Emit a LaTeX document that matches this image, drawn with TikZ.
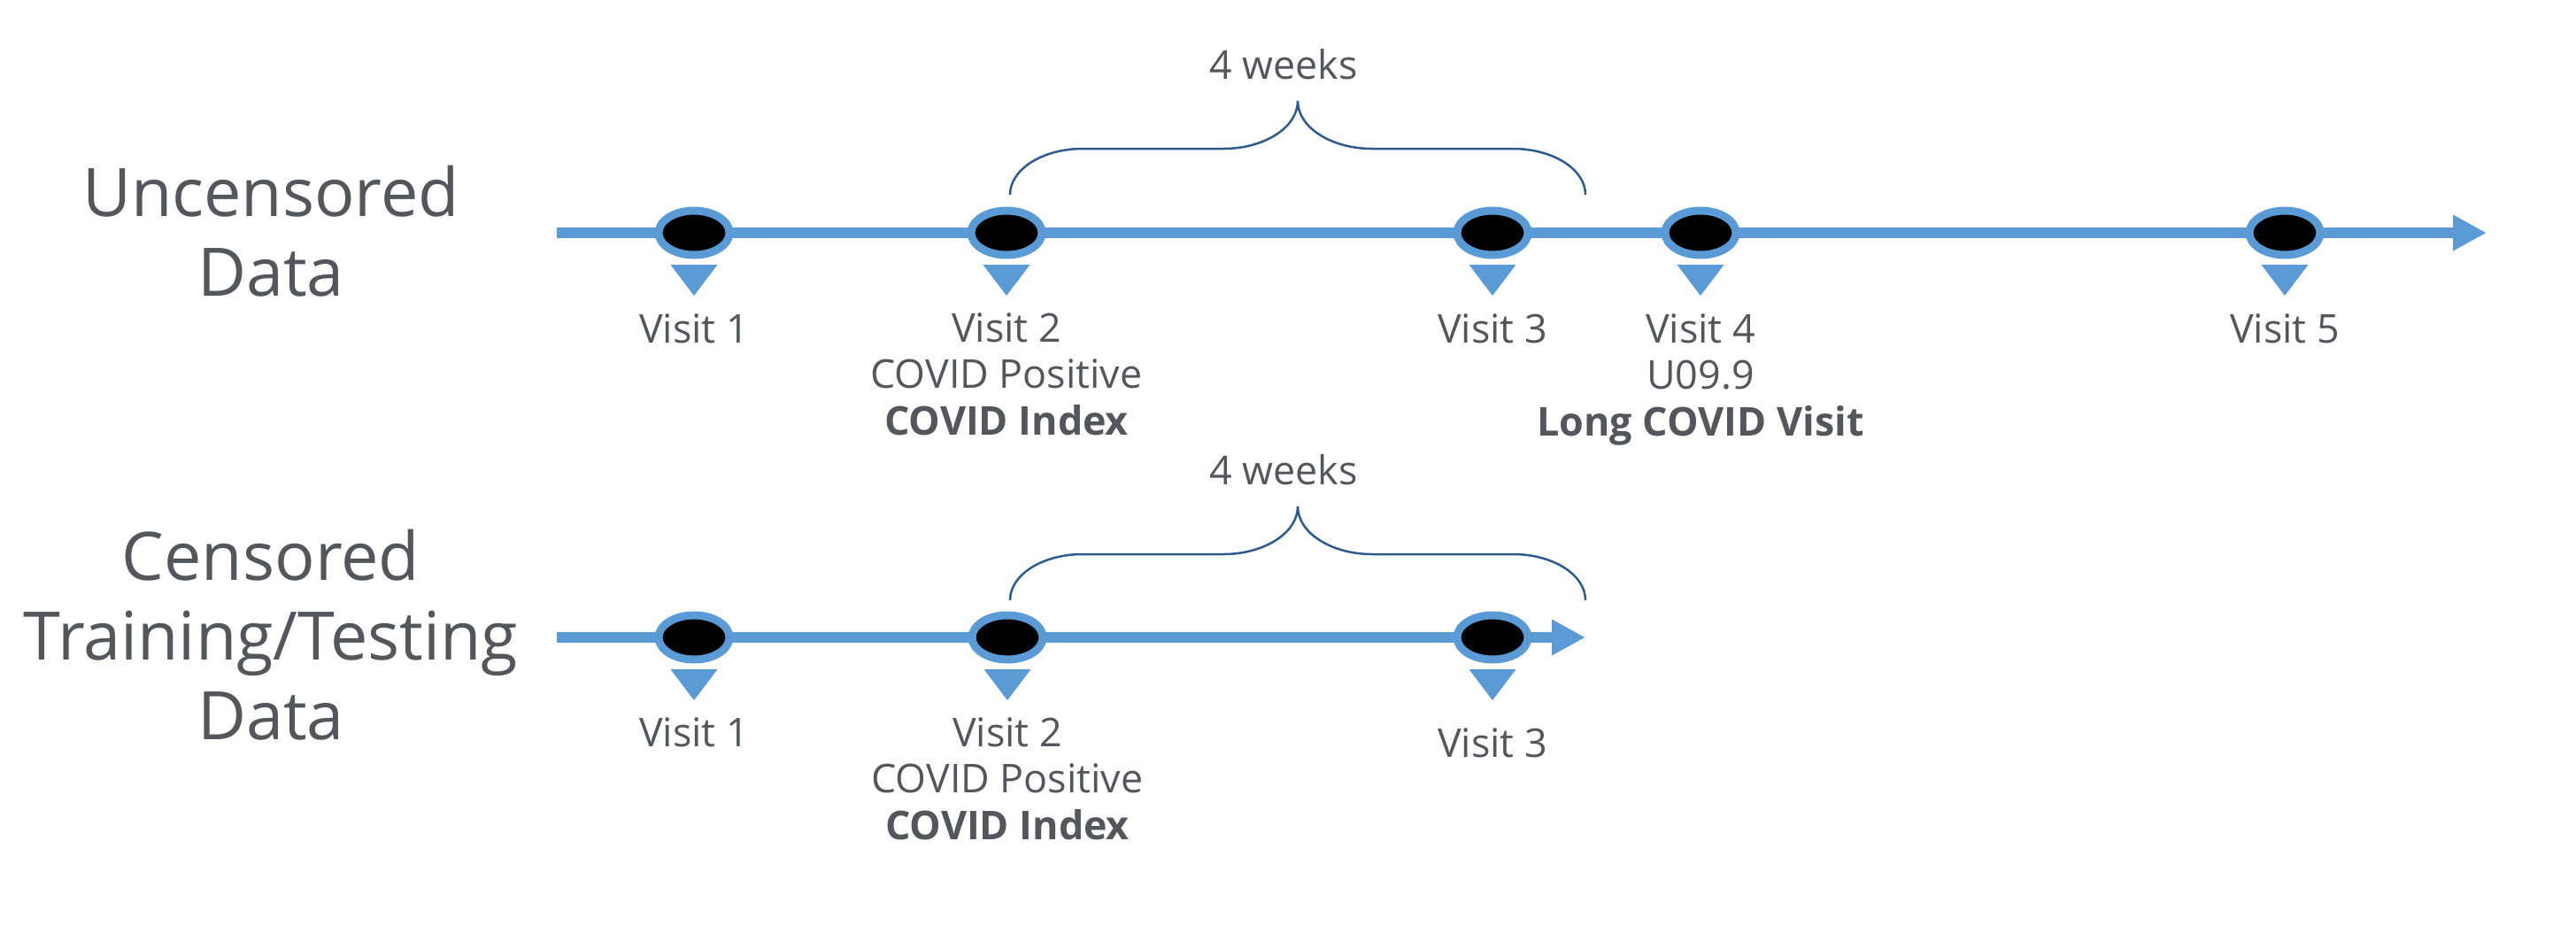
\documentclass[tikz,border=0pt]{standalone}
\definecolor{lineblue}{HTML}{5B9BD5}
\definecolor{braceblue}{HTML}{2F5A8E}
\definecolor{txtgray}{HTML}{53565A}
\usepackage{fontspec}
\setmainfont{Open Sans}
\usetikzlibrary{arrows.meta}
\usetikzlibrary{shapes.geometric}
\usetikzlibrary{calc}

\begin{document}
\begin{tikzpicture}[
	timeline/.style={lineblue, line width=1.25mm, -{Triangle[length=3.8mm,width=3.8mm]}},
	visit/.style={ellipse, draw=lineblue, line width=0.9mm, fill=black, minimum width=8mm, minimum height=5mm, inner sep=0pt},
	lbl/.style={txtgray, font=\fontsize{12.75}{14.8}\selectfont, align=center, anchor=base, inner sep=0pt},
	biglbl/.style={txtgray, font=\fontsize{21.5}{25.6}\selectfont, align=center, anchor=base, inner sep=0pt},
	brace/.style={braceblue, line width=0.25mm}]
	\useasboundingbox (0,0) rectangle (29.1,-10.45);
	%row titles (base = last line)
	\node[biglbl] (unc) at (3.06,-3.34) {Uncensored\\Data};
	\node[biglbl] (cen) at (3.06,-8.35) {Censored\\Training/Testing\\Data};
	%uncensored timeline
	\coordinate (ts) at (6.29,-2.63);
	\coordinate (te) at (28.09,-2.63);
	\draw[timeline] (ts) -- (te);
	\foreach \x [count=\i] in {7.84,11.37,16.86,19.21,25.81}
	{
		\node[visit] (t\i) at (\x,-2.63) {};
		\fill[lineblue] ($(t\i)+(-0.265,-0.36)$) -- ++(0.53,0) -- ($(t\i)+(0,-0.71)$) -- cycle;
	}
	\node[lbl] (tl1) at ($(t1)+(0,-1.24)$) {Visit 1};
	\node[lbl] (tl2) at ($(t2)+(0,-2.28)$) {Visit 2\\COVID Positive\\\textbf{COVID Index}};
	\node[lbl] (tl3) at ($(t3)+(0,-1.24)$) {Visit 3};
	\node[lbl] (tl4) at ($(t4)+(0,-2.29)$) {Visit 4\\U09.9\\\textbf{Long COVID Visit}};
	\node[lbl] (tl5) at ($(t5)+(0,-1.24)$) {Visit 5};
	%censored timeline
	\coordinate (bs) at (6.29,-7.20);
	\coordinate (be) at (17.91,-7.20);
	\draw[timeline] (bs) -- (be);
	\foreach \x [count=\i] in {7.84,11.38,16.86}
	{
		\node[visit] (b\i) at (\x,-7.20) {};
		\fill[lineblue] ($(b\i)+(-0.265,-0.36)$) -- ++(0.53,0) -- ($(b\i)+(0,-0.71)$) -- cycle;
	}
	\node[lbl] (bl1) at ($(b1)+(0,-1.23)$) {Visit 1};
	\node[lbl] (bl2) at ($(b2)+(0,-2.28)$) {Visit 2\\COVID Positive\\\textbf{COVID Index}};
	\node[lbl] (bl3) at ($(b3)+(0,-1.35)$) {Visit 3};
	%braces
	\foreach \yb [count=\j] in {0,-4.58}
	{
		\begin{scope}[yshift=\yb cm]
			\draw[brace] (11.41,-2.20) .. controls (11.41,-1.91) and (11.78,-1.68) .. (12.23,-1.68)
			-- (13.82,-1.68) .. controls (14.28,-1.68) and (14.66,-1.44) .. (14.66,-1.14)
			.. controls (14.66,-1.44) and (15.04,-1.68) .. (15.50,-1.68)
			-- (17.09,-1.68) .. controls (17.54,-1.68) and (17.91,-1.91) .. (17.91,-2.20);
			\node[lbl] (wk\j) at (14.50,-0.89) {4 weeks};
		\end{scope}
	}
\end{tikzpicture}
\end{document}
